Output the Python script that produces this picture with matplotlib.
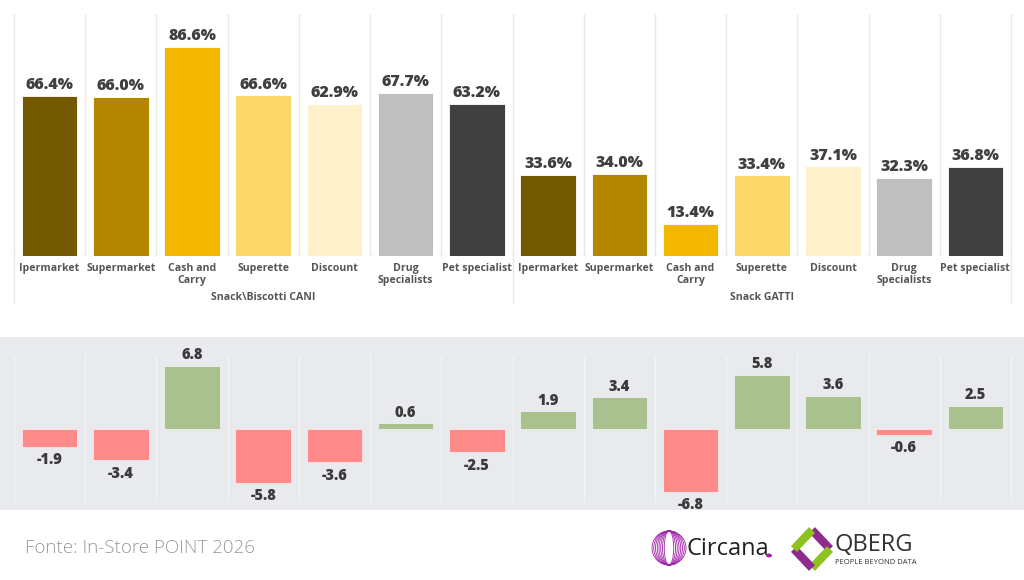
import numpy as np
import matplotlib.pyplot as plt
from matplotlib.patches import Rectangle, Ellipse, Circle

plt.rcParams['font.family'] = ['Open Sans', 'DejaVu Sans']

channels = ["Ipermarket", "Supermarket", "Cash and\nCarry", "Superette",
            "Discount", "Drug\nSpecialists", "Pet specialist"]
groups = ["Snack\\Biscotti CANI", "Snack GATTI"]
share_cani = [66.4, 66.0, 86.6, 66.6, 62.9, 67.7, 63.2]
share_gatti = [33.6, 34.0, 13.4, 33.4, 37.1, 32.3, 36.8]
delta_cani = [-1.9, -3.4, 6.8, -5.8, -3.6, 0.6, -2.5]
delta_gatti = [1.9, 3.4, -6.8, 5.8, 3.6, -0.6, 2.5]
footer = "Fonte: In-Store POINT 2026"

colors = ["#735a00", "#b38600", "#f3b700", "#fcd76a", "#fff0cc", "#bfbfbf", "#404040"]
pos_col, neg_col = "#a9c18f", "#ff8a8a"

share = share_cani + share_gatti
delta = delta_cani + delta_gatti
labels = channels * 2
bar_cols = colors * 2
x = np.arange(len(share))
n = len(channels)


def fx(px):
    return px / 1024


def fy(py):
    return 1 - py / 580


fig = plt.figure(figsize=(10.24, 5.8), dpi=100)

# grey band behind the delta panel
fig.patches.append(Rectangle((0, fy(510)), 1, (510 - 337) / 580, transform=fig.transFigure,
                             facecolor='#e8eaed', edgecolor='none', zorder=-5))

# --- top panel: shares
ax1 = fig.add_axes([fx(14), fy(256), fx(1011) - fx(14), (256 - 14) / 580])
ax1.set_xlim(-0.5, len(x) - 0.5)
ax1.set_ylim(0, 100.3)
ax1.axis('off')
ax1.bar(x, share, width=0.78, color=bar_cols, edgecolor='white', linewidth=0.6, zorder=3)
for xi, v in zip(x, share):
    ax1.annotate(f"{v:.1f}%", (xi, v), xytext=(0, 2), textcoords='offset points',
                 ha='center', va='bottom', fontsize=11.5, fontweight='heavy', color='#3f3f3f')
for xi, lab in zip(x, labels):
    ax1.text(xi, -3, lab, ha='center', va='top', fontsize=7.6, fontweight='bold',
             color='#555555', linespacing=1.1, clip_on=False)
for gi, g in enumerate(groups):
    ax1.text(gi * n + (n - 1) / 2, -14.8, g, ha='center', va='top', fontsize=7.6,
             fontweight='bold', color='#555555', clip_on=False)
inner = [i + 0.5 for i in range(len(x) - 1) if i != n - 1]
ax1.vlines(inner, 0, 100.3, color='#e8e8e8', lw=1, zorder=1)
ax1.vlines([-0.5, n - 0.5, len(x) - 0.5], -20, 100.3, color='#e8e8e8', lw=1,
           zorder=1, clip_on=False)
ax1.hlines(0, -0.5, len(x) - 0.5, color='#e8e8e8', lw=1, zorder=2)

# --- bottom panel: deltas
ax2 = fig.add_axes([fx(14), fy(510), fx(1011) - fx(14), (510 - 337) / 580])
ax2.set_xlim(-0.5, len(x) - 0.5)
ax2.set_ylim(-8.75, 9.93)
ax2.axis('off')
ax2.vlines(np.arange(len(x) + 1) - 0.5, -7.9, 8.0, color='#f3f4f6', lw=1, zorder=1,
           clip_on=False)
dcols = [pos_col if v >= 0 else neg_col for v in delta]
ax2.bar(x, delta, width=0.78, color=dcols, edgecolor='white', linewidth=0.4, zorder=3)
for xi, v in zip(x, delta):
    if v >= 0:
        ax2.annotate(f"{v:.1f}", (xi, v), xytext=(0, 2), textcoords='offset points',
                     ha='center', va='bottom', fontsize=10.5, fontweight='heavy', color='#3a3a3a')
    else:
        ax2.annotate(f"{v:.1f}", (xi, v), xytext=(0, -4), textcoords='offset points',
                     ha='center', va='top', fontsize=10.5, fontweight='heavy', color='#3a3a3a')

# --- footer
fig.text(fx(25), fy(548), footer, ha='left', va='center', fontsize=13.5,
         color='#9a9a9a', fontweight='light')

# Circana logo (approximation)
for k in range(8):
    fig.patches.append(Ellipse((fx(669), fy(548)), (34 - k * 3.5) / 1024, 34 / 580,
                               transform=fig.transFigure, fill=False,
                               edgecolor='#a020a8', lw=0.6, zorder=2))
fig.text(fx(686), fy(549), "Circana", ha='left', va='center', fontsize=17,
         color='#222222', fontweight='medium')
fig.patches.append(Circle((fx(769), fy(555.5)), 2.2 / 1024, transform=fig.transFigure,
                          color='#a020a8', zorder=2))

# QBERG logo (approximation)
cx, cy = 812, 549
green, purple = '#8dc21f', '#8e2a8b'
sides = [((cx, cy - 19), (cx + 18, cy)), ((cx + 18, cy), (cx, cy + 19)),
         ((cx, cy + 19), (cx - 18, cy)), ((cx - 18, cy), (cx, cy - 19))]
for (a, b), c in zip(sides, [purple, green, purple, green]):
    fig.add_artist(plt.Line2D([fx(a[0]), fx(b[0])], [fy(a[1]), fy(b[1])],
                              transform=fig.transFigure, color=c, lw=6,
                              solid_capstyle='butt'))
fig.text(fx(834), fy(545), "QBERG", ha='left', va='center', fontsize=17,
         color='#333333', fontweight='medium')
fig.text(fx(835), fy(562), "PEOPLE BEYOND DATA", ha='left', va='center', fontsize=5.5,
         color='#333333')

fig.savefig("out.png", dpi=100)
